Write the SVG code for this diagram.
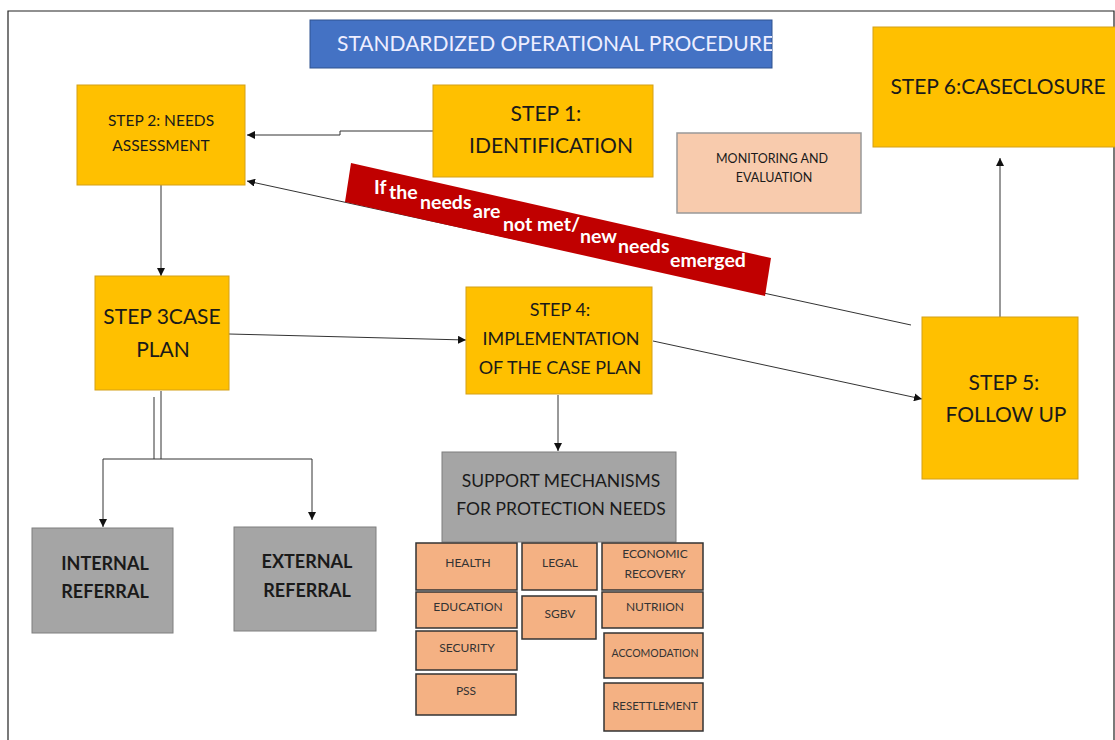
<svg xmlns="http://www.w3.org/2000/svg" width="1115" height="740" viewBox="0 0 1115 740">
<style>
text{font-family:Lato,"Open Sans","Liberation Sans",sans-serif;text-anchor:middle;fill:#1a1a1a}
.y{fill:#FFC000;stroke:#D4A017;stroke-width:1}
.g{fill:#A5A5A5;stroke:#7F7F7F;stroke-width:1}
.o{fill:#F4B183;stroke:#333;stroke-width:1.5}
.m{fill:#F8CBAD;stroke:#999;stroke-width:1.5}
.c{fill:none;stroke:#333;stroke-width:1}
.w{fill:#fff;font-weight:bold;text-anchor:start;font-size:19.5px}
.s{font-size:12px;fill:#333}
</style>
<defs>
<marker id="ar" viewBox="0 0 10 10" refX="10" refY="5" markerWidth="8" markerHeight="8" markerUnits="userSpaceOnUse" orient="auto"><path d="M0,0L10,5L0,10z" fill="#111"/></marker>
<clipPath id="tc"><rect x="310" y="20" width="462" height="48"/></clipPath>
</defs>
<rect width="1115" height="740" fill="#fff"/>
<path d="M8,740V11H1114V740" fill="none" stroke="#222" stroke-width="1.2"/>
<g id="title">
<rect x="310" y="20" width="462" height="48" fill="#4472C4" stroke="#2F528F"/>
<text x="337" y="51" clip-path="url(#tc)" style="text-anchor:start;fill:#eef;font-size:21px">STANDARDIZED OPERATIONAL PROCEDURE</text>
</g>
<g id="connectors">
<path class="c" d="M433,131H340V135H247" marker-end="url(#ar)"/>
<path class="c" d="M911,325L247,181" marker-end="url(#ar)"/>
<path class="c" d="M161,185V276" marker-end="url(#ar)"/>
<path class="c" d="M229,334L466,340" marker-end="url(#ar)"/>
<path class="c" d="M653,341L922,399" marker-end="url(#ar)"/>
<path class="c" d="M1000,317V158" stroke="#777" marker-end="url(#ar)"/>
<path class="c" d="M558,395V451" marker-end="url(#ar)"/>
<path class="c" d="M154,397V459M161,391V459"/>
<path class="c" d="M103,459H312"/>
<path class="c" d="M103,459V527" marker-end="url(#ar)"/>
<path class="c" d="M312,459V520" marker-end="url(#ar)"/>
</g>
<g id="banner">
<polygon points="351,163 771,258 765,296 345,202" fill="#C00000"/>
<text class="w" x="374" y="194">If</text>
<text class="w" x="389" y="199">the</text>
<text class="w" x="420" y="209">needs</text>
<text class="w" x="473" y="218">are</text>
<text class="w" x="503" y="231">not met/</text>
<text class="w" x="580" y="243">new</text>
<text class="w" x="618" y="253">needs</text>
<text class="w" x="670" y="267">emerged</text>
</g>
<g id="step2">
<rect class="y" x="77" y="85" width="168" height="100"/>
<text x="161" y="126" font-size="15.5">STEP 2: NEEDS</text>
<text x="161" y="151" font-size="15.5">ASSESSMENT</text>
</g>
<g id="step1">
<rect class="y" x="433" y="85" width="220" height="92"/>
<text x="546" y="121" font-size="21">STEP 1:</text>
<text x="551" y="153" font-size="21">IDENTIFICATION</text>
</g>
<g id="monitoring">
<rect class="m" x="677" y="133" width="184" height="80"/>
<text x="772" y="163" font-size="12.5" fill="#333">MONITORING AND</text>
<text x="774" y="182" font-size="12.5" fill="#333">EVALUATION</text>
</g>
<g id="step6">
<rect class="y" x="873" y="27" width="250" height="120"/>
<text x="998" y="94" font-size="21">STEP 6:CASECLOSURE</text>
</g>
<g id="step3">
<rect class="y" x="95" y="276" width="134" height="114"/>
<text x="162" y="324" font-size="21">STEP 3CASE</text>
<text x="163" y="357" font-size="21">PLAN</text>
</g>
<g id="step4">
<rect class="y" x="466" y="287" width="186" height="107"/>
<text x="560" y="316" font-size="18">STEP 4:</text>
<text x="561" y="345" font-size="18">IMPLEMENTATION</text>
<text x="560" y="374" font-size="18">OF THE CASE PLAN</text>
</g>
<g id="step5">
<rect class="y" x="922" y="317" width="156" height="162"/>
<text x="1004" y="390" font-size="21">STEP 5:</text>
<text x="1006" y="422" font-size="21">FOLLOW UP</text>
</g>
<g id="support">
<rect class="g" x="442" y="452" width="234" height="90"/>
<text x="561" y="487" font-size="17.5" fill="#333">SUPPORT MECHANISMS</text>
<text x="561" y="515" font-size="17.5" fill="#333">FOR PROTECTION NEEDS</text>
</g>
<g id="internal">
<rect class="g" x="32" y="528" width="141" height="105"/>
<text x="105" y="570" font-size="18" font-weight="bold" fill="#111">INTERNAL</text>
<text x="105" y="598" font-size="18" font-weight="bold" fill="#111">REFERRAL</text>
</g>
<g id="external">
<rect class="g" x="234" y="527" width="142" height="104"/>
<text x="307" y="568" font-size="18" font-weight="bold" fill="#111">EXTERNAL</text>
<text x="307" y="597" font-size="18" font-weight="bold" fill="#111">REFERRAL</text>
</g>
<g id="health"><rect class="o" x="416" y="543" width="101" height="47"/><text class="s" x="468" y="567">HEALTH</text></g>
<g id="education"><rect class="o" x="416" y="592" width="101" height="36"/><text class="s" x="468" y="611">EDUCATION</text></g>
<g id="security"><rect class="o" x="416" y="631" width="101" height="39"/><text class="s" x="467" y="652">SECURITY</text></g>
<g id="pss"><rect class="o" x="416" y="674" width="100" height="41"/><text class="s" x="466" y="695">PSS</text></g>
<g id="legal"><rect class="o" x="522" y="543" width="75" height="47"/><text class="s" x="560" y="567">LEGAL</text></g>
<g id="sgbv"><rect class="o" x="522" y="596" width="74" height="43"/><text class="s" x="560" y="618">SGBV</text></g>
<g id="economic"><rect class="o" x="602" y="543" width="101" height="47"/><text class="s" x="655" y="558">ECONOMIC</text><text class="s" x="655" y="578">RECOVERY</text></g>
<g id="nutrition"><rect class="o" x="602" y="592" width="101" height="36"/><text class="s" x="655" y="611">NUTRIION</text></g>
<g id="accomodation"><rect class="o" x="604" y="633" width="99" height="45"/><text class="s" x="655" y="657" style="font-size:10.5px">ACCOMODATION</text></g>
<g id="resettlement"><rect class="o" x="604" y="683" width="99" height="48"/><text class="s" x="655" y="710" style="font-size:11.5px">RESETTLEMENT</text></g>
</svg>
